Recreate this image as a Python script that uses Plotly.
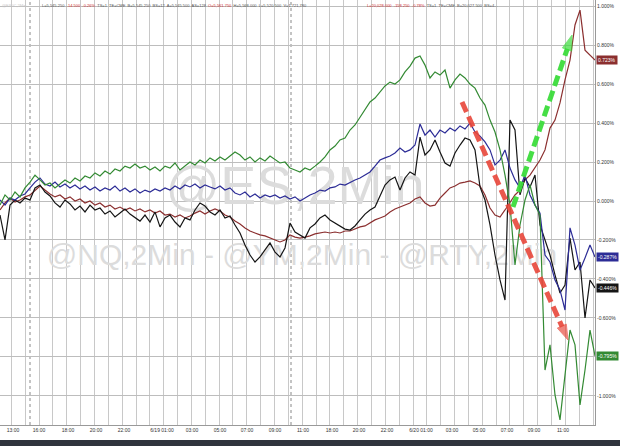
import plotly.graph_objects as go

# ---- data (percent change), one sample per bar index ----
green = [-0.021,0.031,0.005,0.046,0.021,0.067,0.097,0.133,0.108,0.082,
         0.092,0.067,0.087,0.108,0.092,0.118,0.103,0.128,0.118,0.144,
         0.128,0.154,0.138,0.164,0.154,0.179,0.169,0.190,0.169,0.179,
         0.159,0.174,0.154,0.179,0.169,0.195,0.159,0.179,0.200,0.185,
         0.210,0.195,0.221,0.205,0.226,0.210,0.231,0.251,0.236,0.210,
         0.226,0.200,0.221,0.205,0.231,0.215,0.195,0.200,0.169,0.159,
         0.149,0.169,0.159,0.179,0.200,0.226,0.262,0.282,0.313,0.323,
         0.364,0.390,0.431,0.467,0.508,0.528,0.559,0.590,0.610,0.600,
         0.621,0.662,0.692,0.733,0.744,0.697,0.631,0.662,0.646,0.672,
         0.579,0.621,0.651,0.631,0.600,0.579,0.528,0.492,0.415,0.354,
         0.262,0.133,-0.021,-0.328,-0.123,0.005,0.082,-0.021,-0.072,-0.867,
         -0.738,-0.995,-1.123,-0.892,-0.662,-0.738,-1.046,-0.867,-0.662,-0.795]

blue = [0.005,-0.021,0.015,0.005,0.026,0.036,0.067,0.097,0.118,0.087,
        0.077,0.097,0.072,0.087,0.067,0.082,0.062,0.077,0.056,0.072,
        0.051,0.067,0.056,0.077,0.051,0.067,0.046,0.062,0.041,0.056,
        0.046,0.062,0.051,0.067,0.056,0.077,0.062,0.082,0.072,0.087,
        0.067,0.082,0.072,0.062,0.077,0.056,0.067,0.041,0.031,0.046,
        0.021,0.036,0.015,0.031,0.021,0.031,0.015,0.026,0.010,0.021,
        0.000,0.015,0.031,0.041,0.056,0.051,0.067,0.072,0.087,0.082,
        0.097,0.108,0.118,0.133,0.149,0.179,0.210,0.221,0.231,0.246,
        0.272,0.251,0.262,0.287,0.395,0.338,0.364,0.328,0.364,0.349,
        0.374,0.359,0.385,0.369,0.400,0.354,0.333,0.303,0.262,0.185,
        0.210,0.262,0.169,0.108,0.067,0.133,0.031,-0.021,-0.062,-0.277,
        -0.313,-0.405,-0.456,-0.559,-0.138,-0.226,-0.354,-0.292,-0.226,-0.287]

black = [-0.072,-0.200,-0.021,0.005,-0.010,0.015,0.005,0.067,0.082,0.046,
         0.026,-0.010,-0.031,0.005,-0.015,-0.046,-0.026,-0.056,-0.021,-0.046,
         -0.036,-0.067,-0.051,-0.082,-0.062,-0.041,-0.067,-0.087,-0.103,-0.072,
         -0.108,-0.056,-0.133,-0.087,-0.072,-0.108,-0.133,-0.087,-0.097,-0.046,
         -0.010,-0.026,-0.056,-0.072,-0.046,-0.087,-0.077,-0.123,-0.164,-0.226,
         -0.277,-0.313,-0.287,-0.251,-0.215,-0.262,-0.287,-0.241,-0.113,-0.159,
         -0.174,-0.190,-0.138,-0.118,-0.087,-0.072,-0.097,-0.113,-0.128,-0.144,
         -0.149,-0.128,-0.097,-0.067,-0.046,-0.031,0.026,0.082,0.108,0.123,
         0.056,0.118,0.149,0.133,0.328,0.236,0.262,0.313,0.251,0.195,
         0.179,0.246,0.287,0.323,0.313,0.262,0.072,0.005,-0.123,-0.277,
         -0.405,-0.508,0.415,0.364,0.031,0.118,0.072,0.133,-0.123,-0.200,
         -0.277,-0.379,-0.472,-0.431,-0.190,-0.354,-0.313,-0.600,-0.405,-0.446]

brown = [-0.046,-0.010,0.015,-0.005,0.005,0.021,0.031,0.056,0.077,0.056,
         0.036,0.021,0.031,0.010,0.021,0.000,0.010,-0.010,0.000,-0.021,
         -0.010,-0.031,-0.021,-0.041,-0.031,-0.046,-0.036,-0.051,-0.041,-0.056,
         -0.046,-0.062,-0.051,-0.072,-0.067,-0.082,-0.072,-0.087,-0.077,-0.062,
         -0.051,-0.067,-0.051,-0.041,-0.051,-0.072,-0.082,-0.103,-0.118,-0.138,
         -0.154,-0.164,-0.174,-0.179,-0.190,-0.200,-0.210,-0.200,-0.174,-0.185,
         -0.190,-0.185,-0.179,-0.169,-0.164,-0.159,-0.164,-0.159,-0.164,-0.154,
         -0.154,-0.144,-0.133,-0.128,-0.113,-0.097,-0.087,-0.077,-0.056,-0.041,
         -0.031,-0.021,-0.010,0.010,0.021,-0.010,-0.026,-0.021,0.015,0.041,
         0.067,0.077,0.092,0.097,0.103,0.092,0.077,0.031,-0.036,-0.072,
         -0.082,-0.046,-0.010,0.031,0.056,0.108,0.133,0.169,0.210,0.262,
         0.374,0.415,0.503,0.621,0.723,0.903,0.979,0.774,0.749,0.723]

bars = list(range(len(green)))

tick_pos = [2.6, 7.8, 13.6, 19.2, 24.8, 32.4, 38.4, 44.0, 49.4, 55.0, 60.6,
            66.4, 71.8, 77.4, 84.2, 90.4, 95.8, 101.4, 106.8, 112.6]
tick_text = ["13:00", "16:00", "18:00", "20:00", "22:00", "6/19 01:00", "03:00",
             "05:00", "07:00", "09:00", "11:00", "18:00", "20:00", "22:00",
             "6/20 01:00", "03:00", "05:00", "07:00", "09:00", "11:00"]
y_ticks = [1.0, 0.8, 0.6, 0.4, 0.2, 0.0, -0.2, -0.4, -0.6, -0.8, -1.0]
y_text = [f"{v:.3f}%" for v in y_ticks]

series = [("brown", brown, "#8b2f2f"), ("black", black, "#151515"),
          ("blue", blue, "#2c2c96"), ("green", green, "#338a33")]

fig = go.Figure()

# watermarks (under the lines)
fig.add_trace(go.Scatter(x=[59], y=[0.056], mode="text", text=["@ES,2Min"],
                         textfont=dict(size=54, color="#dcdcdc", family="Liberation Sans"),
                         hoverinfo="skip"))
fig.add_trace(go.Scatter(x=[60.4], y=[-0.292], mode="text",
                         text=["@NQ,2Min - @YM,2Min - @RTY,2Min"],
                         textfont=dict(size=30, color="#dcdcdc", family="Liberation Sans"),
                         hoverinfo="skip"))

for name, vals, col in series:
    fig.add_trace(go.Scatter(x=bars, y=vals, mode="lines", name=name,
                             line=dict(color=col, width=1.2)))

# dashed arrows
fig.add_trace(go.Scatter(x=[92.4, 113.6], y=[0.508, -0.713], mode="lines+markers",
                         line=dict(color="rgba(232,70,58,0.9)", width=5, dash="11px,5px"),
                         marker=dict(symbol="arrow", size=[0, 16], angleref="previous",
                                     color="rgba(232,70,58,0.95)"),
                         hoverinfo="skip"))
fig.add_trace(go.Scatter(x=[102.6, 114.4], y=[-0.031, 0.851], mode="lines+markers",
                         line=dict(color="rgba(60,220,60,0.95)", width=5, dash="11px,5px"),
                         marker=dict(symbol="arrow", size=[0, 16], angleref="previous",
                                     color="rgba(60,220,60,1)"),
                         hoverinfo="skip"))

# last value tags
for name, vals, col in series:
    fig.add_annotation(x=1, xref="paper", y=vals[-1], yref="y", xanchor="left",
                       xshift=1, text=f"{vals[-1]:.3f}%", showarrow=False,
                       bgcolor=col, borderpad=1,
                       font=dict(size=5, color="white", family="Liberation Sans"))

# header
fig.add_annotation(x=0.0, xref="paper", y=1, yref="paper", xanchor="left", yanchor="top",
                   yshift=-1, showarrow=False, text="@ES#C,2Min",
                   font=dict(size=4, color="#c8c8c8", family="Liberation Sans"))
fig.add_annotation(x=40/595, xref="paper", y=1, yref="paper", xanchor="left", yanchor="top",
                   yshift=-1, showarrow=False,
                   text=("L=5,545.250  <span style='color:#d03030'>-14.500  -0.26%</span>  TS=1  "
                         "TE=CME  B=5,545.250  BS=12  A=5,545.500  AS=128  "
                         "<span style='color:#d03030'>O=5,561.750</span>  H=5,568.000  "
                         "L=5,520.500  V=1,721,780"),
                   font=dict(size=4, color="#555", family="Liberation Sans"))
fig.add_annotation(x=365/595, xref="paper", y=1, yref="paper", xanchor="left", yanchor="top",
                   yshift=-1, showarrow=False,
                   text=("<span style='color:#d03030'>L=20,028.000  -158.250  -0.78%</span>  "
                         "TS=1  TE=CME  B=20,027.500  BS=4..."),
                   font=dict(size=4, color="#555", family="Liberation Sans"))

# day separators (dotted)
for xs in [6.0, 58.2]:
    fig.add_shape(type="line", x0=xs, x1=xs, y0=0, y1=1, xref="x", yref="paper",
                  line=dict(color="#888", width=1, dash="dot"), layer="below")

# bottom dark bar
fig.add_shape(type="rect", xref="paper", yref="paper", x0=0, x1=620/595,
              y0=-0.06, y1=-15/425, fillcolor="#30343d", line=dict(width=0))

fig.update_layout(
    width=620, height=446, margin=dict(l=0, r=25, t=0, b=21),
    showlegend=False, plot_bgcolor="white", paper_bgcolor="white",
    font=dict(family="Liberation Sans", size=5, color="#333"),
)
fig.update_xaxes(range=[0, 119], tickmode="array", tickvals=tick_pos, ticktext=tick_text,
                 showgrid=False, zeroline=False, ticks="", tickfont=dict(size=5, color="#333"),
                 showline=True, linecolor="#999", linewidth=1,
                 minor=dict(tickmode="linear", tick0=2.27, dtick=2.77, showgrid=True,
                            gridcolor="#c8c8c8", gridwidth=1, ticks=""))
fig.update_yaxes(side="right", range=[-1.149, 1.031], tickmode="array", tickvals=y_ticks,
                 ticktext=y_text, showgrid=True, gridcolor="#bdbdbd", gridwidth=1,
                 zeroline=False, ticks="", tickfont=dict(size=5, color="#333"),
                 showline=True, linecolor="#999", linewidth=1, mirror=False)

fig.write_html("out.html", config={"displayModeBar": False},
               post_script="document.body.style.margin='0px';document.body.style.overflow='hidden';")
